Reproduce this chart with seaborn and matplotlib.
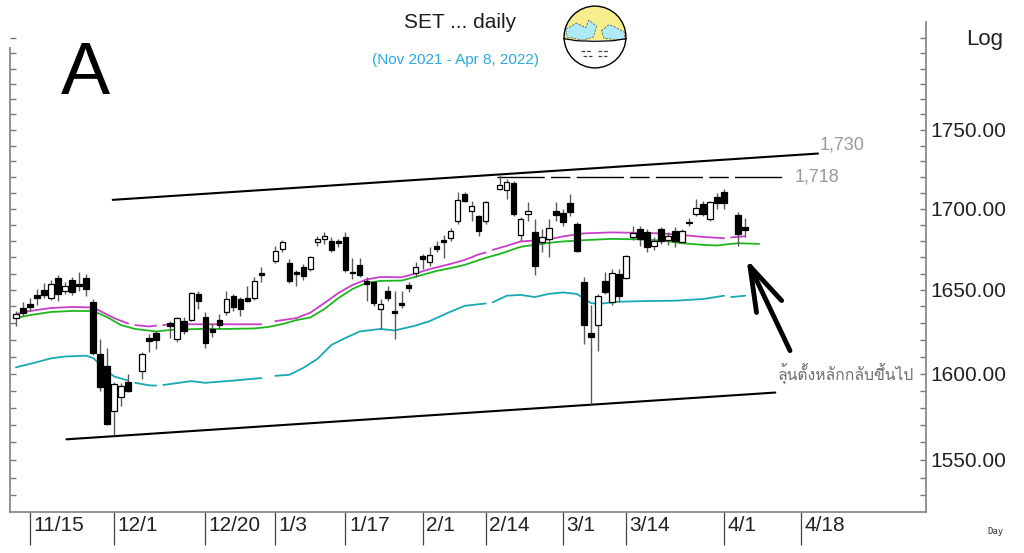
import numpy as np
import pandas as pd
import matplotlib
matplotlib.use("Agg")
import matplotlib.pyplot as plt
import matplotlib.patches as mpatches
import matplotlib.transforms as mtransforms
from matplotlib import font_manager
from matplotlib.ft2font import FT2Font
from matplotlib.ticker import FixedLocator, FixedFormatter, NullFormatter
import seaborn as sns

# x position = weekday number counted from Mon 15 Nov 2021 (holidays left empty)
slots = [-2, -1, 0, 1, 2, 3, 4, 5, 6, 7,
         8, 9, 10, 11, 12, 13, 14, 16, 17, 18,
         20, 21, 22, 23, 24, 25, 26, 27, 28, 29,
         30, 31, 32, 33, 35, 36, 37, 38, 39, 40,
         41, 42, 43, 44, 45, 46, 47, 48, 49, 50,
         51, 52, 53, 54, 55, 56, 57, 58, 59, 60,
         61, 62, 63, 64, 65, 67, 68, 69, 70, 71,
         72, 73, 74, 75, 76, 77, 78, 79, 80, 81,
         82, 83, 84, 85, 86, 87, 88, 89, 90, 91,
         92, 93, 94, 95, 96, 97, 98, 99, 101, 102]
opens = [1633.0, 1639.1, 1641.5, 1647.0, 1650.0, 1645.1, 1657.3, 1649.4, 1656.1, 1653.6,
         1657.3, 1642.7, 1611.6, 1604.6, 1578.4, 1586.5, 1595.2, 1601.6, 1621.1, 1624.1,
         1629.9, 1620.5, 1631.2, 1631.8, 1647.6, 1633.6, 1626.5, 1631.8, 1636.7, 1646.4,
         1644.5, 1645.1, 1645.1, 1660.3, 1667.8, 1675.1, 1666.6, 1661.0, 1664.1, 1662.7,
         1679.4, 1681.3, 1680.0, 1680.0, 1682.5, 1661.0, 1665.3, 1655.5, 1654.9, 1638.5,
         1649.4, 1637.3, 1642.1, 1653.0, 1660.3, 1670.8, 1667.2, 1676.9, 1680.6, 1681.9,
         1692.4, 1709.3, 1698.6, 1695.5, 1692.4, 1712.4, 1711.7, 1716.2, 1683.7, 1696.7,
         1685.6, 1679.4, 1681.3, 1698.6, 1697.4, 1703.6, 1690.6, 1654.9, 1624.1, 1628.8,
         1655.5, 1642.7, 1659.7, 1657.3, 1682.5, 1687.4, 1685.6, 1677.0, 1687.4, 1680.6,
         1686.2, 1679.4, 1691.8, 1696.7, 1703.0, 1693.7, 1707.4, 1710.6, 1695.9, 1688.9]
highs = [1637.3, 1642.7, 1645.1, 1650.6, 1654.2, 1656.1, 1659.1, 1654.9, 1657.9, 1661.0,
         1659.7, 1644.5, 1620.5, 1615.2, 1595.2, 1594.6, 1599.8, 1612.8, 1623.5, 1625.3,
         1631.2, 1633.6, 1633.6, 1648.8, 1649.4, 1636.7, 1630.0, 1635.4, 1649.4, 1647.6,
         1645.7, 1652.4, 1657.9, 1663.9, 1677.0, 1680.6, 1668.9, 1662.2, 1665.9, 1670.8,
         1683.1, 1685.6, 1682.5, 1681.3, 1685.6, 1669.5, 1669.5, 1657.9, 1655.5, 1644.5,
         1652.4, 1649.4, 1649.4, 1654.9, 1667.2, 1672.0, 1676.4, 1680.0, 1683.7, 1688.0,
         1710.6, 1710.6, 1704.9, 1696.1, 1704.9, 1721.4, 1718.8, 1717.4, 1694.9, 1704.2,
         1693.7, 1687.4, 1693.7, 1704.2, 1699.9, 1709.3, 1691.8, 1657.9, 1640.9, 1647.6,
         1661.0, 1662.7, 1662.7, 1671.4, 1689.3, 1689.3, 1687.4, 1682.5, 1688.6, 1685.6,
         1688.6, 1687.4, 1694.3, 1706.1, 1704.9, 1704.9, 1709.9, 1712.4, 1698.0, 1694.3]
lows = [1628.2, 1634.2, 1637.3, 1640.9, 1645.1, 1643.9, 1643.3, 1647.6, 1647.0, 1649.4,
        1646.4, 1611.0, 1590.0, 1569.8, 1564.2, 1581.3, 1589.4, 1596.9, 1612.8, 1614.6,
        1621.0, 1618.8, 1623.5, 1631.2, 1638.5, 1615.2, 1621.7, 1626.5, 1634.8, 1637.3,
        1634.2, 1642.7, 1643.9, 1654.9, 1666.6, 1673.2, 1654.2, 1652.4, 1656.1, 1661.5,
        1677.0, 1678.1, 1673.2, 1676.4, 1660.9, 1656.7, 1657.9, 1643.3, 1640.3, 1626.5,
        1643.3, 1620.5, 1639.1, 1648.8, 1657.9, 1662.7, 1664.7, 1673.2, 1669.5, 1680.0,
        1690.6, 1704.2, 1692.4, 1683.1, 1690.6, 1711.7, 1706.1, 1695.5, 1680.0, 1692.4,
        1659.1, 1673.2, 1670.2, 1692.4, 1689.3, 1695.5, 1673.2, 1617.6, 1582.4, 1613.4,
        1647.6, 1640.9, 1642.7, 1656.7, 1680.6, 1677.0, 1673.2, 1674.5, 1678.1, 1677.6,
        1676.4, 1679.4, 1689.3, 1695.5, 1695.5, 1692.4, 1699.9, 1699.9, 1677.0, 1682.5]
closes = [1635.4, 1636.0, 1639.7, 1645.1, 1647.0, 1653.6, 1647.6, 1652.4, 1648.8, 1652.4,
          1650.6, 1612.2, 1592.3, 1570.9, 1594.0, 1592.9, 1590.0, 1611.6, 1619.3, 1620.0,
          1628.2, 1633.0, 1625.3, 1648.2, 1643.3, 1618.2, 1624.7, 1628.8, 1644.5, 1639.7,
          1638.5, 1643.3, 1655.5, 1659.1, 1673.9, 1679.4, 1655.5, 1659.7, 1658.5, 1670.2,
          1681.3, 1683.1, 1674.5, 1678.8, 1662.2, 1660.3, 1659.1, 1653.6, 1642.1, 1641.5,
          1645.1, 1636.1, 1640.9, 1651.2, 1664.1, 1668.9, 1671.4, 1675.1, 1679.4, 1686.2,
          1705.5, 1704.9, 1701.8, 1686.2, 1704.2, 1714.9, 1716.8, 1696.7, 1693.7, 1698.6,
          1664.7, 1682.5, 1688.0, 1696.1, 1691.8, 1698.0, 1673.9, 1628.8, 1621.7, 1646.4,
          1648.8, 1660.3, 1646.4, 1670.8, 1684.9, 1681.3, 1676.4, 1680.0, 1680.0, 1683.1,
          1680.0, 1686.2, 1691.2, 1700.5, 1696.7, 1704.2, 1703.6, 1703.6, 1684.3, 1686.8]

# moving averages
mag_slot = [-2, 0, 3, 6, 9, 10, 12, 14, 15, 17, 18, 19, 20, 24, 28, 32, 33, 35, 38, 40,
            42, 44, 46, 48, 50, 53, 55, 57, 60, 62, 64, 65, 66, 68, 70, 72, 74, 76, 79, 83,
            87, 90, 93, 96, 99, 100, 102]
mag_val = [1635.4, 1637.3, 1639.1, 1639.7, 1639.4, 1637.3, 1633.0, 1629.7, 1628.8, 1628.0,
           1628.5, 1628.8, 1629.3, 1629.3, 1629.3, 1629.3, 1629.3, 1631.2, 1633.0, 1636.3,
           1642.1, 1648.2, 1653.0, 1656.4, 1657.9, 1657.7, 1660.0, 1662.7, 1665.9, 1668.3,
           1671.7, 1672.9, 1674.5, 1677.0, 1679.7, 1680.3, 1681.0, 1682.8, 1684.7, 1685.3,
           1685.0, 1684.7, 1683.7, 1682.5, 1681.7, 1682.2, 1682.9]
green_slot = [-2, 0, 3, 6, 9, 11, 13, 15, 18, 20, 24, 28, 32, 34, 36, 38, 40, 42, 44, 46,
              48, 50, 53, 55, 58, 60, 62, 65, 67, 70, 72, 74, 76, 80, 83, 87, 90, 93, 96, 98,
              100, 101, 104]
green_val = [1633.0, 1634.8, 1636.7, 1637.3, 1637.3, 1633.6, 1628.8, 1626.5, 1625.0, 1625.9,
             1626.5, 1626.5, 1626.8, 1627.7, 1629.4, 1631.8, 1633.4, 1638.5, 1645.1, 1650.6,
             1654.3, 1655.5, 1655.7, 1658.0, 1661.6, 1663.3, 1665.3, 1669.6, 1672.0, 1676.4,
             1677.6, 1678.8, 1679.7, 1680.7, 1681.3, 1681.0, 1680.3, 1678.6, 1677.6, 1677.2,
             1678.2, 1678.6, 1678.2]
teal_slot = [-2, 1, 3, 5, 8, 9, 11, 12, 14, 15, 17, 18, 19, 23, 25, 29, 33, 35, 37, 39,
             41, 43, 45, 47, 50, 52, 55, 57, 60, 62, 65, 66, 68, 70, 72, 74, 76, 78, 80, 81,
             84, 88, 92, 96, 99, 100, 102]
teal_val = [1603.7, 1606.8, 1609.0, 1610.1, 1610.6, 1609.2, 1601.6, 1598.3, 1595.9, 1594.6,
            1593.1, 1593.0, 1593.3, 1595.6, 1594.6, 1595.9, 1597.4, 1598.7, 1599.3, 1603.4,
            1608.7, 1617.0, 1621.1, 1625.0, 1626.5, 1625.6, 1628.5, 1631.2, 1636.9, 1640.4,
            1641.8, 1642.5, 1646.5, 1647.0, 1645.7, 1647.6, 1648.5, 1647.6, 1642.1, 1641.5,
            1642.9, 1643.3, 1643.5, 1644.5, 1646.5, 1645.7, 1646.5]
ma_breaks = [14.5, 18.5, 33.5, 65.5, 99.5]   # holiday breaks in the averages

# trend lines
upper_slot = [11.8, 112.4]
upper_val = [1705.6, 1734.9]
lower_slot = [5.2, 106.3]
lower_val = [1561.8, 1588.9]
resist_slot = [66.6, 107.8]
resist_level = 1720.0

tick_slots = [0, 12, 25, 35, 45, 56, 65, 76, 85, 99, 110]
tick_labels = ["11/15", "12/1", "12/20", "1/3", "1/17", "2/1", "2/14", "3/1", "3/14", "4/1", "4/18"]
y_ticks = [1550, 1600, 1650, 1700, 1750]
y_labels = ["1550.00", "1600.00", "1650.00", "1700.00", "1750.00"]


def pick(cands, fallback):
    names = {f.name for f in font_manager.fontManager.ttflist}
    for c in cands:
        if c in names:
            return c
    return fallback


def thai_font():
    for f in font_manager.fontManager.ttflist:
        try:
            if 0x0E25 in FT2Font(f.fname).get_charmap():
                return f.name
        except Exception:
            pass
    return "DejaVu Sans"


def ma_frame(xs, ys, breaks):
    xs = np.asarray(xs, float)
    return pd.DataFrame({"slot": xs, "value": ys, "seg": np.searchsorted(breaks, xs)})


sns.set_theme(style="white")
plt.rcParams["font.family"] = ["Liberation Sans", "DejaVu Sans"]
narrow = pick(["Liberation Sans Narrow", "Arial Narrow"], "Liberation Sans")
thai = thai_font()

fig = plt.figure(figsize=(10.24, 5.53), dpi=100)
ax = fig.add_axes([10 / 1024, 41 / 553, 916 / 1024, 490 / 553])

candles = pd.DataFrame({"slot": slots, "open": opens, "high": highs, "low": lows, "close": closes})
up = candles["close"] >= candles["open"]

# moving averages
for xs, ys, col, brk in [(teal_slot, teal_val, "#19a9b3", ma_breaks),
                         (green_slot, green_val, "#1fb51f", []),
                         (mag_slot, mag_val, "#c83fc8", ma_breaks)]:
    sns.lineplot(data=ma_frame(xs, ys, brk), x="slot", y="value", units="seg",
                 estimator=None, sort=False, color=col, lw=1.3, ax=ax, zorder=2)

# trend lines
sns.lineplot(x=upper_slot, y=upper_val, color="black", lw=1.5, ax=ax, zorder=2)
sns.lineplot(x=lower_slot, y=lower_val, color="black", lw=1.5, ax=ax, zorder=2)
ax.plot(resist_slot, [resist_level, resist_level], color="black", lw=1.0,
        linestyle=(0, (34, 4.5, 14, 4.5)), zorder=2)

# candles
ax.vlines(candles["slot"], candles["low"], candles["high"], color="#5a5a5a", lw=1.0, zorder=3)
body_lo = candles[["open", "close"]].min(axis=1)
body_hi = candles[["open", "close"]].max(axis=1)
ax.bar(candles["slot"], body_hi - body_lo, bottom=body_lo, width=0.78,
       color=np.where(up, "white", "black"), edgecolor="black", linewidth=0.9, zorder=4)

ax.set_yscale("log")
ax.set_xlim(-2.85, 127.8)
ax.set_ylim(1520.6, 1820.9)
ax.set_xlabel("")
ax.set_ylabel("")

ax.yaxis.set_major_locator(FixedLocator(y_ticks))
ax.yaxis.set_major_formatter(FixedFormatter(y_labels))
ax.yaxis.set_minor_locator(FixedLocator(np.arange(1530, 1820, 10)))
ax.yaxis.set_minor_formatter(NullFormatter())
ax.tick_params(axis="y", which="both", direction="in", left=True, right=True,
               labelleft=False, labelright=True, color="#777777", width=1.0, pad=3)
ax.tick_params(axis="y", which="major", length=4, labelsize=15, labelcolor="#222222")
ax.tick_params(axis="y", which="minor", length=4)
for lab in ax.get_yticklabels():
    lab.set_fontfamily(narrow)

ax.set_xticks(tick_slots)
ax.set_xticklabels(tick_labels)
ax.tick_params(axis="x", which="major", direction="out", length=24, width=0.9,
               color="#444444", pad=-21, labelsize=15, labelcolor="#222222", bottom=True)
shift = mtransforms.ScaledTranslation(2.5 / 72, 0, fig.dpi_scale_trans)
for lab in ax.get_xticklabels():
    lab.set_horizontalalignment("left")
    lab.set_verticalalignment("top")
    lab.set_fontfamily(narrow)
    lab.set_transform(lab.get_transform() + shift)

ax.spines["top"].set_visible(False)
for side in ["left", "right", "bottom"]:
    ax.spines[side].set_color("#8a8a8a")
    ax.spines[side].set_linewidth(1.3)
ax.spines["left"].set_bounds(1520.6, 1803.6)
ax.grid(False)

# level labels
ax.annotate("1,730", xy=(upper_slot[1], upper_val[1]), xytext=(1.5, 6), textcoords="offset points",
            va="center", ha="left", color="#9a9a9a", fontsize=13, family=narrow)
ax.annotate("1,718", xy=(resist_slot[1], resist_level), xytext=(6.5, 0), textcoords="offset points",
            va="center", ha="left", color="#9a9a9a", fontsize=13, family=narrow)

# arrow + comment
ax.annotate("", xy=(102.2, 1668.9), xytext=(108.4, 1613.6),
            arrowprops=dict(arrowstyle="->,head_length=3.2,head_width=1.0", lw=3.5,
                            color="black", mutation_scale=10, shrinkA=0, shrinkB=0))
ax.text(106.7, 1599.8, "ลุ้นตั้งหลักกลับขึ้นไป", va="center", ha="left", color="#6e6e6e",
        fontsize=11.3, family=[thai, "DejaVu Sans"])

# texts around the chart
fig.text(85 / 1024, 1 - 74 / 553, "A", fontsize=53, ha="center", va="center", color="black")
fig.text(460 / 1024, 1 - 22 / 553, "SET ... daily", fontsize=15, ha="center", va="center", color="#1e1e1e")
fig.text(455 / 1024, 1 - 60 / 553, "(Nov 2021 - Apr 8, 2022)", fontsize=11, ha="center",
         va="center", color="#2aa9e0")
fig.text(985 / 1024, 1 - 40 / 553, "Log", fontsize=16, ha="center", va="center", color="#222222",
         family=narrow)
fig.text(995 / 1024, 1 - 531 / 553, "Day", fontsize=6.5, ha="center", va="center", color="#333333",
         family="DejaVu Sans Mono")

# small globe logo
gax = fig.add_axes([561 / 1024, 1 - 72 / 553, 68 / 1024, 70 / 553])
gax.set_xlim(-1.1, 1.1)
gax.set_ylim(-1.1, 1.1)
gax.set_aspect("equal")
gax.axis("off")
globe = mpatches.Circle((0, 0), 1, fc="#f6ee8c", ec="none")
gax.add_patch(globe)
for pts in [[(-0.95, 0.25), (-0.6, 0.45), (-0.3, 0.3), (-0.2, 0.55), (0.05, 0.35), (-0.05, 0.0),
             (-0.4, -0.1), (-0.9, 0.0)],
            [(0.2, 0.2), (0.45, 0.4), (0.7, 0.3), (0.95, 0.15), (0.95, -0.1), (0.3, -0.05)]]:
    p = mpatches.Polygon(pts, closed=True, fc="#aee9f6", ec="#555555", lw=0.5, ls="--")
    gax.add_patch(p)
    p.set_clip_path(globe)
mask = mpatches.Rectangle((-1.1, -1.1), 2.2, 1.0, fc="white", ec="none")
gax.add_patch(mask)
mask.set_clip_path(globe)
gax.plot([-1.02, -0.6, 0, 0.6, 1.02], [-0.05, -0.12, -0.14, -0.12, -0.05], color="black", lw=0.9)
gax.plot([-0.45, -0.1], [-0.45, -0.45], color="#444444", lw=0.9, ls=(0, (3, 1.5)))
gax.plot([0.1, 0.45], [-0.45, -0.45], color="#444444", lw=0.9, ls=(0, (3, 1.5)))
gax.plot([-0.4, -0.1], [-0.62, -0.62], color="#444444", lw=0.9, ls=(0, (3, 1.5)))
gax.plot([0.1, 0.4], [-0.62, -0.62], color="#444444", lw=0.9, ls=(0, (3, 1.5)))
gax.add_patch(mpatches.Circle((0, 0), 1, fc="none", ec="black", lw=1.0))

fig.savefig("out.png", dpi=100)
